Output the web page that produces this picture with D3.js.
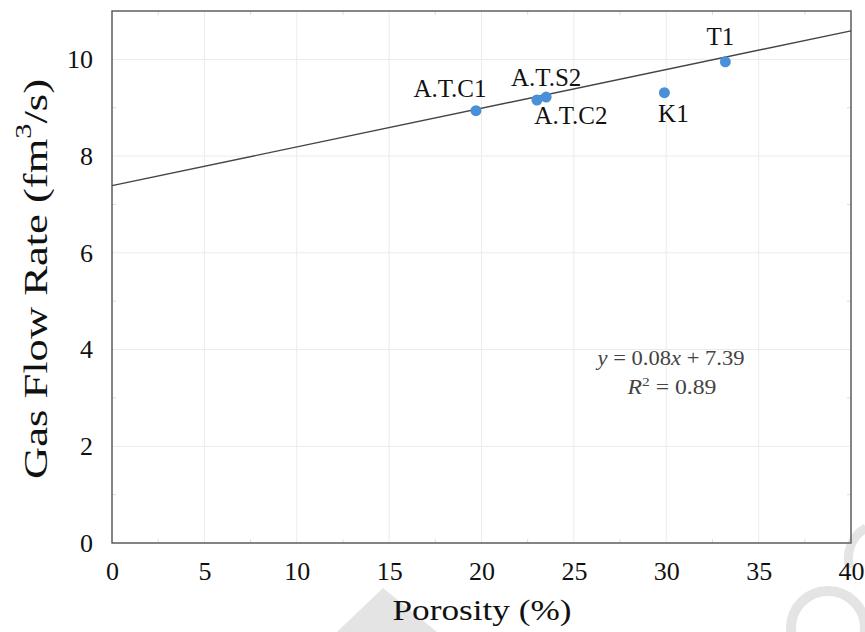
<!DOCTYPE html>
<html>
<head>
<meta charset="utf-8">
<script src="https://cdn.jsdelivr.net/npm/d3@7"></script>
<style>
  body { margin: 0; background: #fff; }
  svg { display: block; }
  text { font-family: "Liberation Serif", "DejaVu Serif", serif; fill: #111; }
</style>
</head>
<body>
<svg id="chart" width="865" height="632"></svg>
<script>
// samples
const samples = ["A.T.C1", "A.T.C2", "A.T.S2", "K1", "T1"];
const porosity = [19.7, 23.0, 23.5, 29.9, 33.2];
const flowRate = [8.94, 9.16, 9.22, 9.31, 9.95];

// linear fit shown on the chart
const fitSlope = 0.08;
const fitIntercept = 7.39;

const xTicks = [0, 5, 10, 15, 20, 25, 30, 35, 40];
const yTicks = [0, 2, 4, 6, 8, 10];

// label placement relative to each point (px)
const labelOffset = [[-26, -14], [34, 24], [0, -11], [9, 29], [-5, -17]];

const svg = d3.select("#chart");
const margin = { left: 112, right: 14, top: 11, bottom: 89 };
const width = 865 - margin.left - margin.right;
const height = 632 - margin.top - margin.bottom;

const x = d3.scaleLinear().domain([0, 40]).range([0, width]);
const y = d3.scaleLinear().domain([0, 11]).range([height, 0]);

// watermark fragments at the bottom of the page
const wm = svg.append("g");
wm.append("path").attr("d", "M337,632 L383,588 L437,632 Z").attr("fill", "#e4e4e4");
wm.append("circle").attr("cx", 828).attr("cy", 628).attr("r", 37)
  .attr("fill", "none").attr("stroke", "#e4e4e4").attr("stroke-width", 10);
wm.append("path").attr("d", "M866,528 A34,34 0 0,0 850,568")
  .attr("fill", "none").attr("stroke", "#e4e4e4").attr("stroke-width", 9);

const g = svg.append("g").attr("transform", `translate(${margin.left},${margin.top})`);

// grid
g.append("g").selectAll("line").data(xTicks).join("line")
  .attr("x1", d => x(d)).attr("x2", d => x(d))
  .attr("y1", 0).attr("y2", height)
  .attr("stroke", "#ebebeb").attr("stroke-width", 1);
g.append("g").selectAll("line").data(yTicks).join("line")
  .attr("x1", 0).attr("x2", width)
  .attr("y1", d => y(d)).attr("y2", d => y(d))
  .attr("stroke", "#ebebeb").attr("stroke-width", 1);

// minor ticks on the frame
const xMinor = d3.range(2.5, 40, 5);
const yMinor = d3.range(1, 11, 2);
g.append("g").selectAll("line").data(xMinor.flatMap(d => [[d, height, -4], [d, 0, 4]])).join("line")
  .attr("x1", d => x(d[0])).attr("x2", d => x(d[0]))
  .attr("y1", d => d[1]).attr("y2", d => d[1] + d[2])
  .attr("stroke", "#dcdcdc");
g.append("g").selectAll("line").data(yMinor.flatMap(d => [[d, 0, 4], [d, width, -4]])).join("line")
  .attr("y1", d => y(d[0])).attr("y2", d => y(d[0]))
  .attr("x1", d => d[1]).attr("x2", d => d[1] + d[2])
  .attr("stroke", "#dcdcdc");

// axes tick labels
const xAxis = g.append("g").attr("transform", `translate(0,${height})`)
  .call(d3.axisBottom(x).tickValues(xTicks).tickSize(0).tickPadding(19));
const yAxis = g.append("g")
  .call(d3.axisLeft(y).tickValues(yTicks).tickSize(0).tickPadding(19));
[xAxis, yAxis].forEach(a => {
  a.select(".domain").remove();
  a.selectAll("text").attr("font-family", "Liberation Serif, serif")
    .attr("font-size", 26).attr("fill", "#111");
});

// frame
g.append("rect").attr("width", width).attr("height", height)
  .attr("fill", "none").attr("stroke", "#555").attr("stroke-width", 1.4);

// regression line
g.append("line")
  .attr("x1", x(0)).attr("y1", y(fitIntercept))
  .attr("x2", x(40)).attr("y2", y(fitIntercept + fitSlope * 40))
  .attr("stroke", "#444").attr("stroke-width", 1.4);

// points
g.append("g").selectAll("circle").data(samples).join("circle")
  .attr("cx", (d, i) => x(porosity[i]))
  .attr("cy", (d, i) => y(flowRate[i]))
  .attr("r", 5.5)
  .attr("fill", "#4a90d9");

// point labels
g.append("g").selectAll("text").data(samples).join("text")
  .attr("x", (d, i) => x(porosity[i]) + labelOffset[i][0])
  .attr("y", (d, i) => y(flowRate[i]) + labelOffset[i][1])
  .attr("text-anchor", "middle")
  .attr("font-size", 25)
  .text(d => d);

// fit equation
const eqX = 671 - margin.left;
const eq = g.append("text")
  .attr("x", eqX).attr("y", 365 - margin.top)
  .attr("text-anchor", "middle")
  .attr("font-size", 20).style("fill", "#444")
  .attr("textLength", 147).attr("lengthAdjust", "spacingAndGlyphs");
eq.append("tspan").attr("font-style", "italic").text("y");
eq.append("tspan").text(" = 0.08");
eq.append("tspan").attr("font-style", "italic").text("x");
eq.append("tspan").text(" + 7.39");
const r2 = g.append("text")
  .attr("x", eqX + 1).attr("y", 394 - margin.top)
  .attr("text-anchor", "middle")
  .attr("font-size", 20).style("fill", "#444")
  .attr("textLength", 89).attr("lengthAdjust", "spacingAndGlyphs");
r2.append("tspan").attr("font-style", "italic").text("R");
r2.append("tspan").attr("font-size", 13).attr("dy", -8).text("2");
r2.append("tspan").attr("dy", 8).text(" = 0.89");

// axis titles
g.append("text")
  .attr("x", 482 - margin.left).attr("y", height + 77)
  .attr("text-anchor", "middle").attr("font-size", 29)
  .attr("textLength", 179).attr("lengthAdjust", "spacingAndGlyphs")
  .text("Porosity (%)");
const yt = g.append("text")
  .attr("transform", `translate(${-65},${279 - margin.top}) rotate(-90)`)
  .attr("text-anchor", "middle").attr("font-size", 34)
  .attr("textLength", 400).attr("lengthAdjust", "spacingAndGlyphs");
yt.append("tspan").text("Gas Flow Rate (fm");
yt.append("tspan").attr("font-size", 23).attr("dy", -16).text("3");
yt.append("tspan").attr("dy", 16).text("/s)");
</script>
</body>
</html>
